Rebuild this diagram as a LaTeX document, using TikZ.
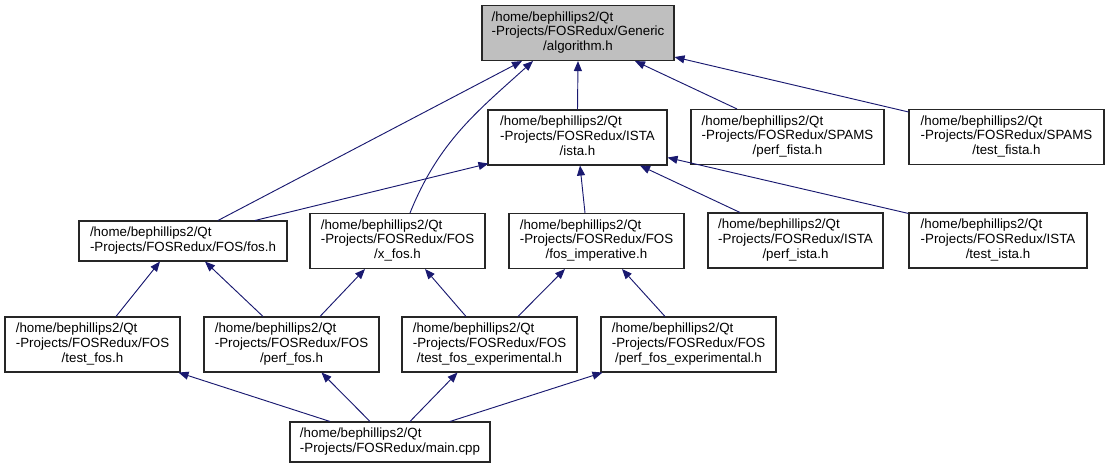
\documentclass[tikz,border=0pt]{standalone}
\usepackage{fontspec}
\setmainfont{Liberation Sans}
\usetikzlibrary{arrows.meta,calc}
\definecolor{edgeblue}{HTML}{191970}
\definecolor{boxgray}{HTML}{BFBFBF}
\newcommand{\threel}[3]{\begin{tabular}{@{}l@{}}#1\\#2\\\multicolumn{1}{@{}c@{}}{#3}\end{tabular}}
\newcommand{\twol}[2]{\begin{tabular}{@{}l@{}}#1\\#2\end{tabular}}
\tikzset{
  filebox/.style={draw=black!85, line width=0.8pt, fill=white, inner sep=0pt,
    minimum height=41.25pt, font=\fontsize{10}{11.2}\selectfont},
  twobox/.style={filebox, minimum height=30pt},
  edge/.style={draw=edgeblue, line width=0.7pt, -{Triangle[length=7.5pt,width=6pt]}},
}
\begin{document}
\begin{tikzpicture}[x=0.75pt,y=-0.75pt]
\useasboundingbox (0,0) rectangle (1110,468);
% row 0
\node[filebox, fill=boxgray, minimum width=144pt] (alg) at (578,33) {\threel{/home/bephillips2/Qt}{-Projects/FOSRedux/Generic}{/algorithm.h}};
% row 1
\node[filebox, minimum width=134.25pt] (ista) at (577.5,137.5) {\threel{/home/bephillips2/Qt}{-Projects/FOSRedux/ISTA}{/ista.h}};
\node[filebox, minimum width=144.75pt] (pfista) at (787.5,137) {\threel{/home/bephillips2/Qt}{-Projects/FOSRedux/SPAMS}{/perf\_fista.h}};
\node[filebox, minimum width=146.25pt] (tfista) at (1006.5,137) {\threel{/home/bephillips2/Qt}{-Projects/FOSRedux/SPAMS}{/test\_fista.h}};
% row 2
\node[twobox, minimum width=156pt] (fos) at (183,241) {\twol{/home/bephillips2/Qt}{-Projects/FOSRedux/FOS/fos.h}};
\node[filebox, minimum width=131.25pt] (xfos) at (397.5,241) {\threel{/home/bephillips2/Qt}{-Projects/FOSRedux/FOS}{/x\_fos.h}};
\node[filebox, minimum width=131.25pt] (fimp) at (596.5,241) {\threel{/home/bephillips2/Qt}{-Projects/FOSRedux/FOS}{/fos\_imperative.h}};
\node[filebox, minimum width=131.25pt] (pista) at (795.5,240.5) {\threel{/home/bephillips2/Qt}{-Projects/FOSRedux/ISTA}{/perf\_ista.h}};
\node[filebox, minimum width=133.5pt] (tista) at (998,240.5) {\threel{/home/bephillips2/Qt}{-Projects/FOSRedux/ISTA}{/test\_ista.h}};
% row 3
\node[filebox, minimum width=131.25pt] (tfos) at (92.5,344.5) {\threel{/home/bephillips2/Qt}{-Projects/FOSRedux/FOS}{/test\_fos.h}};
\node[filebox, minimum width=131.25pt] (pfos) at (291.5,344.5) {\threel{/home/bephillips2/Qt}{-Projects/FOSRedux/FOS}{/perf\_fos.h}};
\node[filebox, minimum width=131.25pt] (tfe) at (489.5,344.5) {\threel{/home/bephillips2/Qt}{-Projects/FOSRedux/FOS}{/test\_fos\_experimental.h}};
\node[filebox, minimum width=131.25pt] (pfe) at (688.5,344.5) {\threel{/home/bephillips2/Qt}{-Projects/FOSRedux/FOS}{/perf\_fos\_experimental.h}};
% row 4
\node[twobox, minimum width=150pt] (main) at (390,442) {\twol{/home/bephillips2/Qt}{-Projects/FOSRedux/main.cpp}};
% edges to algorithm.h
\draw[edge] (ista.north) -- (alg.south);
\draw[edge] ($(fos.north)+(35,0)$) -- ($(alg.south)+(-56,0)$);
\draw[edge] ($(xfos.north)+(12.5,0)$) to[out=68,in=-138] ($(alg.south)+(-45,0)$);
\draw[edge] ($(pfista.north)+(-50.5,0)$) -- ($(alg.south)+(57,0)$);
\draw[edge] ($(tfista.north west)+(0,3)$) -- ($(alg.south east)+(0,-4)$);
% edges to ista.h
\draw[edge] ($(fos.north)+(72,0)$) -- ($(ista.south west)+(1,-2)$);
\draw[edge] ($(fimp.north)+(-11.5,0)$) -- ($(ista.south)+(2.5,0)$);
\draw[edge] ($(pista.north)+(-55.5,0)$) -- ($(ista.south)+(62.5,0)$);
\draw[edge] ($(tista.north west)+(0,1)$) -- ($(ista.south east)+(0,-8)$);
% edges to fos.h / x_fos.h / fos_imperative.h
\draw[edge] ($(tfos.north)+(23.5,0)$) -- ($(fos.south)+(-23,0)$);
\draw[edge] ($(pfos.north)+(-28.5,0)$) -- ($(fos.south)+(22,0)$);
\draw[edge] ($(pfos.north)+(28.5,0)$) -- ($(xfos.south)+(-32.5,0)$);
\draw[edge] ($(tfe.north)+(-23.5,0)$) -- ($(xfos.south)+(27.5,0)$);
\draw[edge] ($(tfe.north)+(28.5,0)$) -- ($(fimp.south)+(-31.5,0)$);
\draw[edge] ($(pfe.north)+(-23.5,0)$) -- ($(fimp.south)+(25.5,0)$);
% edges from main.cpp
\draw[edge] ($(main.north)+(-60,0)$) -- ($(tfos.south east)+(-2,0)$);
\draw[edge] ($(main.north)+(-20,0)$) -- ($(pfos.south)+(30,0)$);
\draw[edge] ($(main.north)+(20,0)$) -- ($(tfe.south)+(-32,0)$);
\draw[edge] ($(main.north)+(60,0)$) -- ($(pfe.south west)+(2,0)$);
\end{tikzpicture}
\end{document}
